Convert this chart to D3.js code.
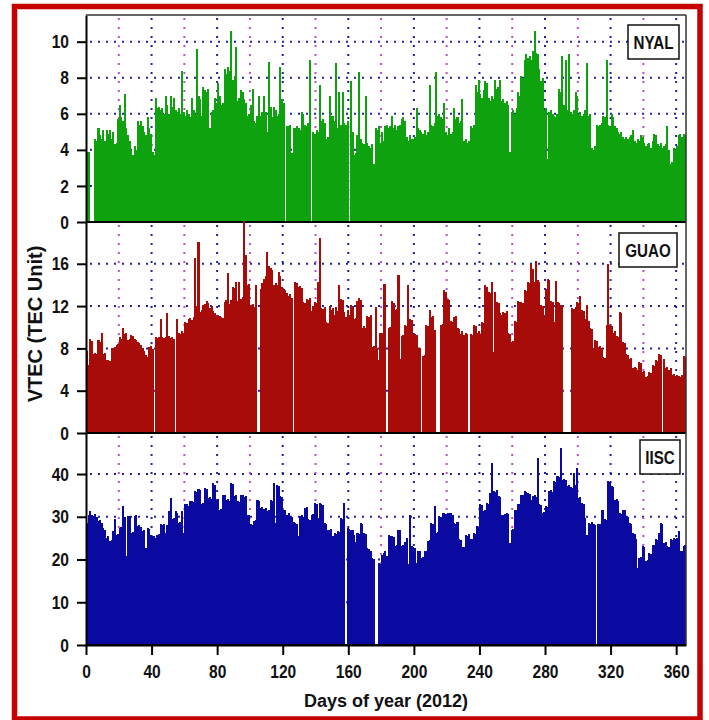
<!DOCTYPE html>
<html lang="en">
<head>
<meta charset="UTF-8">
<title>VTEC 2012</title>
<script src="https://cdn.jsdelivr.net/npm/d3@7"></script>
<style>
    body { margin: 0; background: #fff; }
    svg { display: block; }
    .lbl { font-family: "Liberation Sans", Arial, sans-serif; font-weight: bold; fill: #111; }
</style>
</head>
<body>
<svg width="709" height="720"></svg>
<script>
    // daily VTEC values, index = day of year (0..365)
    const nyal = [
        3.9,3.9,0,0,0,4.6,4.5,5.2,4.8,4.6, 5.1,4.5,5.1,4.9,5.1,4.6,5.0,4.3,4.4,5.7,
        6.5,5.8,5.6,7.1,5.2,4.8,4.5,4.0,3.7,4.2, 4.0,5.6,5.4,5.6,5.3,5.0,4.8,5.8,5.2,4.9,
        3.9,3.7,6.9,6.3,6.4,6.2,6.3,6.0,7.0,6.5, 6.0,7.0,6.4,6.85,6.2,6.1,6.3,6.0,8.4,6.1,
        5.9,6.2,6.0,5.8,6.85,6.2,6.0,9.6,7.0,6.8, 5.9,7.5,7.3,7.2,7.4,5.2,6.1,6.2,6.9,6.6,
        7.7,7.0,6.5,6.6,8.5,8.2,8.6,8.4,10.6,7.9, 8.1,9.7,6.7,6.9,7.3,7.2,6.8,6.6,5.9,6.0,
        6.5,7.4,5.6,5.5,5.9,7.0,5.9,6.1,7.0,6.1, 5.0,8.9,6.4,5.8,6.4,6.2,5.9,6.0,8.6,6.8,
        6.6,0,5.3,5.3,5.4,3.8,5.2,5.2,5.3,5.2, 5.1,6.1,6.0,5.4,5.3,5.5,9.0,0,5.0,4.9,
        5.1,5.0,7.6,5.6,5.7,5.5,4.6,4.7,7.0,5.9, 5.9,5.6,8.8,5.2,7.2,5.4,7.2,5.5,5.4,5.6,
        0,7.8,5.0,3.7,3.8,4.8,8.3,4.6,4.4,4.3, 7.0,4.4,4.2,4.1,4.3,3.2,5.2,5.1,5.3,4.4,
        5.0,4.5,5.3,5.4,5.2,5.3,5.9,5.2,5.4,5.1, 5.3,5.4,5.7,5.8,5.6,4.7,4.5,4.8,4.6,4.6,
        4.7,6.3,5.2,5.1,5.0,4.9,5.1,4.8,5.0,7.6, 5.4,5.3,5.5,8.3,5.9,6.0,5.8,5.7,6.6,5.0,
        4.8,5.2,4.9,5.0,6.3,5.7,5.8,5.5,5.6,6.8, 4.5,4.6,4.4,4.5,5.3,5.2,5.4,7.6,7.2,7.9,
        7.1,6.9,7.3,7.8,7.7,6.9,6.7,7.0,6.8,7.9, 7.4,7.5,7.9,6.7,6.8,6.6,6.7,6.5,3.9,6.1,
        6.2,6.0,6.3,7.2,7.0,8.1,8.0,9.0,9.3,9.1, 9.2,9.0,9.5,10.6,9.4,9.3,8.5,7.8,8.0,6.2,
        6.3,3.5,6.1,6.2,6.0,5.9,5.8,6.0,7.4,7.2, 9.2,6.5,9.0,6.2,9.3,6.1,6.0,6.2,7.2,7.0,
        6.0,6.1,5.9,6.0,6.2,8.8,5.9,6.0,4.1,4.0, 4.2,5.4,5.3,5.4,5.5,5.9,5.8,9.0,5.4,5.3,
        6.0,5.8,5.3,5.2,5.0,4.9,5.0,4.7,4.6,4.7, 4.6,4.7,4.8,5.1,4.5,4.4,4.6,4.5,4.8,4.7,
        4.4,4.2,4.3,4.4,4.1,4.5,4.9,4.8,4.3,4.2, 4.4,4.1,4.2,4.3,5.3,4.0,3.2,3.3,4.1,4.0,
        4.2,4.8,4.9,4.7,4.9,4.8
    ];
    const guao = [
        7.8,6.4,8.9,8.7,7.5,7.6,7.5,8.8,8.6,9.5, 7.5,7.6,6.9,6.9,6.8,8.0,8.0,8.1,8.3,8.4,
        9.1,8.9,9.9,9.4,9.5,8.8,8.9,9.3,9.2,8.9, 8.8,8.6,8.5,8.3,8.0,7.8,7.4,7.2,8.1,8.2,
        7.9,0,9.1,9.0,9.1,10.8,9.1,9.0,9.1,11.3, 9.2,9.0,9.1,8.9,0,10.8,9.5,9.4,9.6,9.5,
        10.5,10.4,10.8,10.9,10.7,11.0,16.5,12.0,18.1,11.4, 11.6,12.1,12.2,12.5,12.3,11.8,12.0,11.5,11.3,11.0,
        11.2,11.1,11.0,10.9,12.4,12.6,15.1,12.2,12.6,13.8, 13.7,14.3,12.5,14.3,12.7,12.9,20.0,16.8,14.0,14.1,
        12.1,12.2,11.9,14.0,0,0,13.6,14.2,14.6,14.8, 17.1,15.8,15.6,15.4,14.0,14.2,14.0,15.2,14.8,13.8,
        13.6,13.5,13.2,13.0,13.1,12.8,0,14.3,14.2,13.8, 13.9,13.7,12.4,12.3,12.7,12.6,12.8,11.5,12.0,12.4,
        12.3,14.3,18.4,11.8,11.7,11.9,10.5,10.4,12.0,11.6, 11.8,11.2,11.9,11.5,14.0,12.7,12.6,11.4,11.0,11.6,
        11.2,12.1,12.0,10.8,10.9,12.5,12.8,12.6,9.9,10.1, 9.9,11.1,11.0,11.2,8.1,8.2,11.9,8.0,6.9,9.5,
        9.5,14.1,14.1,0,9.9,10.0,12.5,12.3,11.6,11.7, 14.9,7.0,9.2,9.3,10.2,10.1,14.0,10.8,10.7,9.4,
        9.4,9.3,8.0,8.0,0,7.3,7.4,10.2,10.1,11.6, 11.0,11.1,9.7,0,0,0,10.2,10.3,13.5,13.3,
        12.7,12.6,10.6,10.5,11.0,11.1,9.9,9.8,9.4,9.6, 9.3,9.5,9.4,0,9.4,9.3,10.2,10.1,9.5,9.6,
        9.4,10.5,10.4,14.0,13.8,13.3,13.2,14.3,7.7,13.3, 12.4,12.3,11.3,11.2,11.4,11.3,11.5,9.5,9.4,8.6,
        8.7,10.6,10.5,12.5,12.4,12.4,12.3,13.5,13.4,14.3, 14.2,16.0,15.5,14.3,16.3,14.5,14.3,12.1,12.0,11.0,
        13.6,14.6,14.5,12.5,12.4,10.5,14.4,12.4,12.3,12.1, 12.1,0,0,0,0,0,11.8,11.7,11.9,12.4,
        12.3,13.0,11.6,11.5,10.8,12.1,10.6,9.9,9.8,8.0, 8.8,8.7,8.1,8.2,8.0,7.2,7.1,10.2,16.0,10.2,
        10.1,9.5,9.6,9.2,9.1,11.4,11.3,8.6,8.5,7.5, 7.4,7.0,7.1,6.1,6.2,6.1,6.0,6.7,6.6,5.8,
        5.9,5.3,5.4,5.8,5.7,6.4,6.3,6.9,6.8,7.5, 7.4,0,7.0,6.1,6.2,6.0,6.1,5.5,5.6,5.4,
        5.5,5.4,5.3,5.5,7.3,7.2
    ];
    const iisc = [
        28.6,30.5,31.3,30.5,30.2,30.6,30.0,28.9,29.2,28.5, 27.4,27.0,25.0,25.4,24.3,24.5,26.6,29.4,25.8,26.0,
        27.4,27.6,32.5,30.0,20.8,30.1,30.2,26.2,26.5,30.1, 30.3,27.8,28.0,27.5,26.6,26.8,22.7,27.4,27.2,25.8,
        25.6,25.4,25.0,25.8,26.0,28.2,28.0,28.4,26.2,28.0, 31.3,34.4,29.4,29.6,31.3,31.0,28.6,28.8,31.3,26.2,
        32.9,33.0,32.6,33.6,33.8,33.4,36.0,35.8,36.4,36.2, 33.0,33.2,36.8,36.5,34.4,34.6,34.2,38.0,37.5,34.0,
        34.2,31.7,31.9,35.2,35.0,34.0,34.2,33.8,38.0,37.6, 34.8,35.0,33.6,33.5,35.2,35.0,34.6,34.8,30.5,30.3,
        28.2,28.0,29.0,29.2,34.0,33.8,32.0,32.2,31.8,32.0, 31.3,31.5,34.0,33.8,38.0,28.6,37.5,37.2,34.8,34.6,
        31.7,31.5,30.5,30.8,30.2,30.0,28.8,28.6,28.4,25.5, 30.1,30.3,30.0,32.0,32.2,29.4,29.2,30.5,30.7,33.2,
        33.0,29.8,33.2,32.9,32.7,28.6,28.4,27.0,26.8,27.2, 25.6,26.2,26.0,26.6,26.4,29.7,29.5,33.2,0,27.4,
        27.2,27.0,26.8,25.8,24.2,26.2,26.0,28.6,28.4,26.2, 26.0,22.7,22.5,22.0,20.4,20.2,0,0,19.2,19.0,
        21.0,21.5,22.0,20.8,25.8,25.6,25.4,25.2,23.1,23.3, 27.0,26.8,23.1,23.3,24.0,25.0,19.0,30.5,23.1,23.0,
        22.7,19.2,21.9,22.0,20.4,20.6,21.9,22.0,24.3,24.5, 28.6,28.4,32.5,26.2,26.4,30.1,30.0,30.9,31.0,30.6,
        30.9,30.8,31.0,30.5,28.6,28.2,28.8,24.7,24.5,23.0, 22.9,25.8,25.6,26.0,24.7,24.9,26.2,26.0,27.8,27.6,
        32.9,32.7,31.3,31.5,33.2,33.0,35.6,42.6,36.0,35.8, 36.2,34.8,34.6,30.5,30.3,30.6,30.9,30.7,23.9,27.0,
        27.2,31.7,31.5,32.9,33.1,35.2,35.0,36.0,35.8,35.6, 35.4,34.0,34.8,35.0,34.6,43.8,33.0,32.8,30.9,31.1,
        32.5,32.3,36.0,36.2,35.8,38.3,38.1,39.5,39.3,46.1, 38.7,38.9,38.5,37.2,37.4,37.0,36.8,40.3,37.5,41.4,
        34.4,34.6,33.2,33.0,29.7,25.8,28.6,28.4,28.8,28.2, 28.0,0,28.2,28.4,31.7,31.5,29.4,29.2,38.3,38.1,
        37.2,37.0,34.0,34.2,33.8,30.9,30.7,31.7,31.5,30.1, 29.9,28.6,28.4,26.2,26.0,24.7,18.0,20.4,20.6,23.1,
        22.9,19.6,19.8,21.5,21.3,23.5,23.3,24.7,24.5,26.2, 28.6,28.4,23.9,24.1,23.1,22.9,24.7,24.5,25.0,24.8,
        25.0,26.6,21.9,22.1,23.1,23.3
    ];

    const stations = ["NYAL", "GUAO", "IISC"];
    const yMax = [11.48, 19.95, 49.6];
    const yTicks = [[0, 2, 4, 6, 8, 10], [0, 4, 8, 12, 16], [0, 10, 20, 30, 40]];
    const dayTicks = [0, 40, 80, 120, 160, 200, 240, 280, 320, 360];
    const gridDays = [20, 40, 60, 80, 100, 120, 140, 160, 180, 200, 220, 240, 260, 280, 300, 320, 340, 360];

    const series = [nyal, guao, iisc];
    const colors = ["#0ea30e", "#a80c08", "#0a0aa0"];
    const panels = [{top: 15, bottom: 222}, {top: 222, bottom: 433}, {top: 433, bottom: 645}];
    const boxes = [{x: 628, y: 25, w: 51}, {x: 619, y: 233, w: 58}, {x: 640, y: 440, w: 40}];
    const sx = 0.82; // narrow look of the labels

    const svg = d3.select("svg");
    const x = d3.scaleLinear().domain([0, 366]).range([86, 686]);
    const bw = x(1) - x(0);

    // red outer frame
    svg.append("rect")
        .attr("x", 14.5).attr("y", 6.5)
        .attr("width", 685.5).attr("height", 712.5)
        .attr("fill", "none").attr("stroke", "#c40000").attr("stroke-width", 5.5);

    series.forEach(function (vals, k) {
        const p = panels[k];
        const y = d3.scaleLinear().domain([0, yMax[k]]).range([p.bottom, p.top]);
        const g = svg.append("g");

        // dotted grid behind the bars
        g.selectAll(".hgrid")
            .data(yTicks[k].filter(d => d > 0))
            .enter().append("line")
            .attr("x1", x(0) + 4).attr("x2", x(366))
            .attr("y1", d => y(d)).attr("y2", d => y(d))
            .attr("stroke", "#22229a").attr("stroke-width", 2)
            .attr("stroke-dasharray", "2,6");

        g.selectAll(".vgrid")
            .data(gridDays)
            .enter().append("line")
            .attr("x1", d => x(d)).attr("x2", d => x(d))
            .attr("y1", p.top + 3).attr("y2", p.bottom)
            .attr("stroke", d => d % 40 === 0 ? "#22229a" : "#c050c0")
            .attr("stroke-width", 2)
            .attr("stroke-dasharray", "2,7");

        // daily bars, pixel-snapped and slightly overlapped so neighbours merge
        g.selectAll(".bar")
            .data(vals)
            .enter().append("rect")
            .attr("x", (d, i) => x(i))
            .attr("y", d => y(d))
            .attr("width", bw + 0.4)
            .attr("height", d => p.bottom - y(d))
            .attr("fill", colors[k])
            .attr("shape-rendering", "crispEdges");

        // left axis
        const ax = g.append("g")
            .attr("transform", "translate(" + x(0) + ",0)")
            .call(d3.axisLeft(y).tickValues(yTicks[k]).tickSize(9).tickSizeOuter(0).tickPadding(8));
        ax.select(".domain").attr("stroke", "#000").attr("stroke-width", 2);
        ax.selectAll(".tick line").attr("stroke", "#000").attr("stroke-width", 2);
        ax.selectAll(".tick text")
            .attr("class", "lbl")
            .style("font-size", "19px")
            .attr("x", -17 / sx)
            .attr("transform", "scale(" + sx + ",1)");

        // panel bottom line
        g.append("line")
            .attr("x1", x(0)).attr("x2", x(366))
            .attr("y1", p.bottom).attr("y2", p.bottom)
            .attr("stroke", "#000").attr("stroke-width", 2);

        // station box
        const b = boxes[k];
        g.append("rect")
            .attr("x", b.x).attr("y", b.y).attr("width", b.w).attr("height", 34)
            .attr("fill", "#fff").attr("stroke", "#111").attr("stroke-width", 1.5);
        g.append("text")
            .attr("class", "lbl")
            .attr("text-anchor", "middle")
            .attr("transform", "translate(" + (b.x + b.w / 2) + "," + (b.y + 24) + ") scale(" + sx + ",1)")
            .style("font-size", "18.5px")
            .text(stations[k]);
    });

    // top and right frame of the plot
    svg.append("line").attr("x1", x(0)).attr("x2", x(366)).attr("y1", 15).attr("y2", 15)
        .attr("stroke", "#333").attr("stroke-width", 1.5);
    svg.append("line").attr("x1", x(366)).attr("x2", x(366)).attr("y1", 15).attr("y2", 645)
        .attr("stroke", "#333").attr("stroke-width", 1.5);

    // bottom axis
    const bx = svg.append("g")
        .attr("transform", "translate(0,645)")
        .call(d3.axisBottom(x).tickValues(dayTicks).tickSize(10).tickSizeOuter(0));
    bx.select(".domain").attr("stroke", "#000").attr("stroke-width", 2);
    bx.selectAll(".tick line").attr("stroke", "#000").attr("stroke-width", 2);
    bx.selectAll(".tick text")
        .attr("class", "lbl")
        .style("font-size", "19px")
        .attr("y", 20)
        .attr("transform", "scale(" + sx + ",1)");

    // axis titles
    svg.append("text")
        .attr("class", "lbl")
        .attr("text-anchor", "middle")
        .attr("x", 386).attr("y", 707)
        .style("font-size", "18px")
        .text("Days of year (2012)");

    svg.append("text")
        .attr("class", "lbl")
        .attr("text-anchor", "middle")
        .attr("transform", "translate(42,324) rotate(-90)")
        .style("font-size", "20px")
        .text("VTEC (TEC Unit)");
</script>
</body>
</html>
